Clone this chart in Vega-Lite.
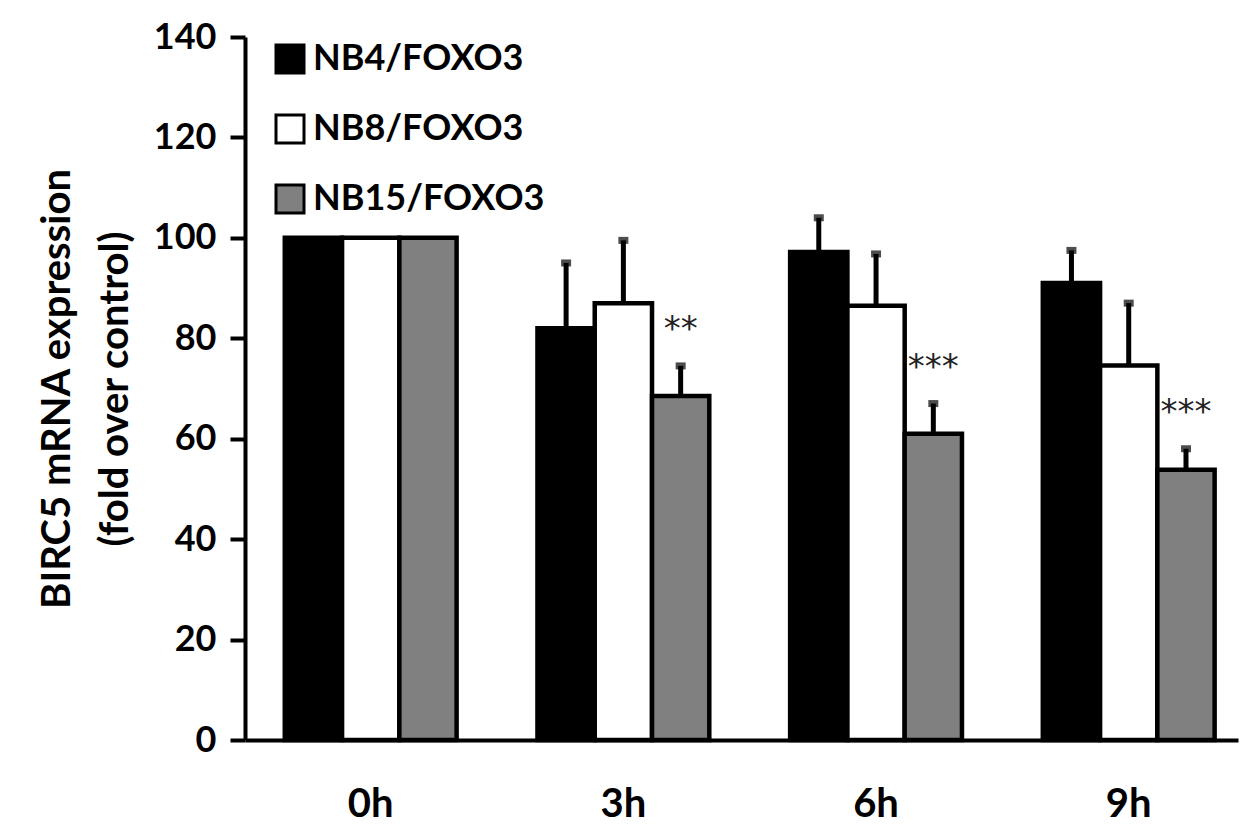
{
  "$schema": "https://vega.github.io/schema/vega-lite/v6.json",
  "autosize": {"type": "none"},
  "padding": {"left": 245, "top": 37, "right": 4, "bottom": 97},
  "width": 993,
  "height": 703,
  "background": "white",
  "config": {
    "view": {"stroke": null},
    "font": "Lato",
    "axis": {"labelFont": "Lato", "titleFont": "Lato", "labelFontWeight": "bold", "titleFontWeight": "bold", "labelColor": "black", "titleColor": "black", "domainColor": "black", "tickColor": "black", "grid": false},
    "legend": {"labelFont": "Lato", "labelFontWeight": "bold"}
  },
  "data": {
    "values": [
      {"time": "0h", "line": "NB4/FOXO3", "value": 100, "err": null, "sig": ""},
      {"time": "0h", "line": "NB8/FOXO3", "value": 100, "err": null, "sig": ""},
      {"time": "0h", "line": "NB15/FOXO3", "value": 100, "err": null, "sig": ""},
      {"time": "3h", "line": "NB4/FOXO3", "value": 82, "err": 95, "sig": ""},
      {"time": "3h", "line": "NB8/FOXO3", "value": 87, "err": 99.5, "sig": ""},
      {"time": "3h", "line": "NB15/FOXO3", "value": 68.5, "err": 74.5, "sig": "**"},
      {"time": "6h", "line": "NB4/FOXO3", "value": 97.2, "err": 104, "sig": ""},
      {"time": "6h", "line": "NB8/FOXO3", "value": 86.5, "err": 96.8, "sig": ""},
      {"time": "6h", "line": "NB15/FOXO3", "value": 61, "err": 67, "sig": "***"},
      {"time": "9h", "line": "NB4/FOXO3", "value": 91, "err": 97.5, "sig": ""},
      {"time": "9h", "line": "NB8/FOXO3", "value": 74.6, "err": 87, "sig": ""},
      {"time": "9h", "line": "NB15/FOXO3", "value": 53.8, "err": 58, "sig": "***"}
    ]
  },
  "encoding": {
    "x": {
      "field": "time", "type": "nominal", "sort": ["0h", "3h", "6h", "9h"],
      "scale": {"paddingInner": 0.32, "paddingOuter": 0.125, "align": 0.63},
      "axis": {"title": null, "labelAngle": 0, "labelFontSize": 40, "labelPadding": 44, "ticks": false, "domainWidth": 4}
    },
    "xOffset": {"field": "line", "type": "nominal", "sort": ["NB4/FOXO3", "NB8/FOXO3", "NB15/FOXO3"]}
  },
  "layer": [
    {
      "mark": {"type": "bar", "stroke": "black", "strokeWidth": 4.5, "strokeJoin": "miter"},
      "encoding": {
        "y": {
          "field": "value", "type": "quantitative",
          "scale": {"domain": [0, 140]},
          "axis": {"values": [0, 20, 40, 60, 80, 100, 120, 140], "title": ["BIRC5 mRNA expression", "(fold over control)"], "titleFontSize": 40, "titleLineHeight": 58, "titlePadding": 18, "labelFontSize": 36, "labelPadding": 14, "tickSize": 15, "tickWidth": 4, "domainWidth": 4}
        },
        "fill": {
          "field": "line", "type": "nominal",
          "scale": {"domain": ["NB4/FOXO3", "NB8/FOXO3", "NB15/FOXO3"], "range": ["#000000", "#ffffff", "#808080"]},
          "legend": {"title": null, "orient": "none", "legendX": 27, "legendY": 4, "symbolType": "square", "symbolSize": 784, "symbolStrokeColor": "black", "symbolStrokeWidth": 3, "labelFontSize": 36, "labelColor": "black", "rowPadding": 30, "labelOffset": 5, "labelLimit": 400}
        }
      }
    },
    {
      "mark": {"type": "rule", "strokeWidth": 5, "color": "black"},
      "transform": [{"filter": "datum.err != null"}],
      "encoding": {
        "y": {"field": "value", "type": "quantitative"},
        "y2": {"field": "err"}
      }
    },
    {
      "mark": {"type": "tick", "color": "black", "size": 10, "thickness": 7, "orient": "horizontal"},
      "transform": [{"filter": "datum.err != null"}],
      "encoding": {
        "y": {"field": "err", "type": "quantitative"}
      }
    },
    {
      "mark": {"type": "text", "fontSize": 34, "font": "DejaVu Sans", "color": "#222222", "baseline": "middle", "dy": -36},
      "transform": [{"filter": "datum.sig != ''"}],
      "encoding": {
        "y": {"field": "err", "type": "quantitative"},
        "text": {"field": "sig"}
      }
    }
  ]
}
